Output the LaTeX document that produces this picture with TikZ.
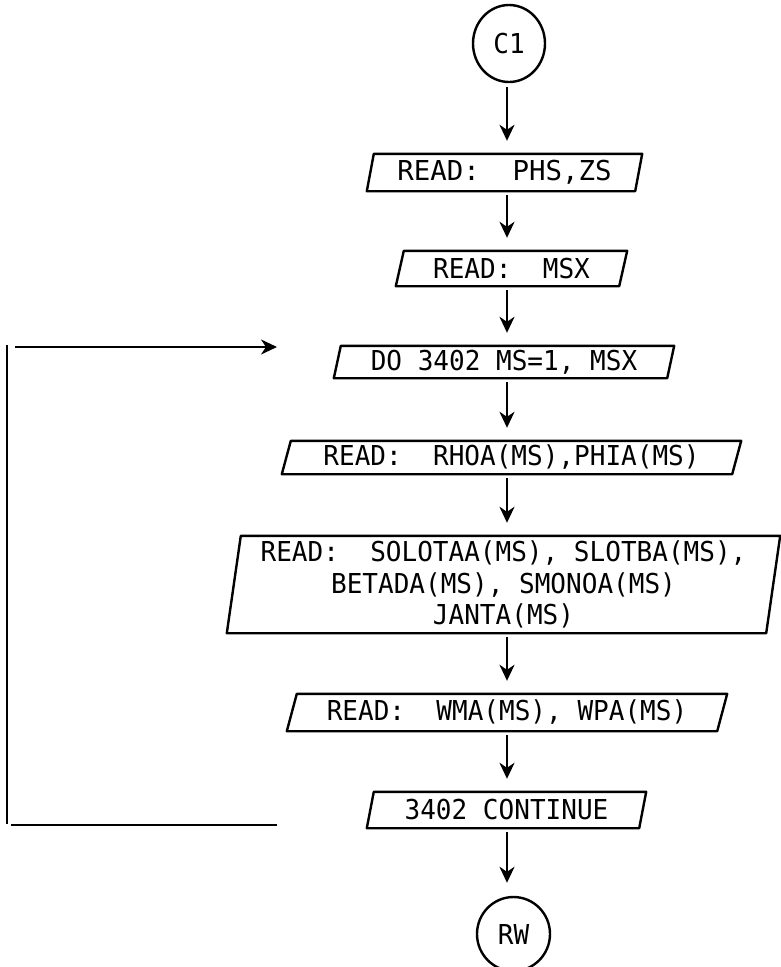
\documentclass[tikz,border=0pt]{standalone}
\usepackage{fontspec}
\usetikzlibrary{arrows.meta,shapes.geometric}
\newfontfamily\ttA[FakeStretch=0.95]{DejaVu Sans Mono}
\newfontfamily\ttB{DejaVu Sans Mono}
\newcommand\drawpara[2]{\draw[box] ([xshift=-#2]#1.south west) -- ([xshift=#2]#1.north west) -- ([xshift=#2]#1.north east) -- ([xshift=-#2]#1.south east) -- cycle;}
\begin{document}
\begin{tikzpicture}[x=1pt,y=-1pt,line width=2.4pt,
  txt/.style={inner sep=0pt,font=\ttA\fontsize{27.4}{31.5}\selectfont},
  box/.style={draw,line join=round},
  term/.style={ellipse,draw,inner sep=0pt,font=\ttA\fontsize{27.4}{30}\selectfont},
  tip/.style={-{Stealth[length=16pt,width=15pt,inset=5pt]}},
  arr/.style={tip,shorten <=4pt,shorten >=13pt}]
\useasboundingbox (0,0) rectangle (781,967);
\coordinate (axis) at (507,0);
% terminals
\node[term,minimum width=72pt,minimum height=77pt] (c1) at (509,43.5) {C1};
\node[term,minimum width=73pt,minimum height=74pt] (rw) at (513.5,934) {RW};
% boxes
\node[txt,font=\ttB\fontsize{27.4}{31.5}\selectfont,minimum width=266pt,minimum height=35pt] (b1) at (504.5,172.5) {READ:~~PHS,ZS};
\drawpara{b1}{3.5pt}
\node[txt,minimum width=221pt,minimum height=33pt] (b2) at (511.5,268.5) {READ:~~MSX};
\drawpara{b2}{4pt}
\node[txt,minimum width=331pt,minimum height=30pt] (b3) at (504,362) {DO 3402 MS=1, MSX};
\drawpara{b3}{3.5pt}
\node[txt,minimum width=448pt,minimum height=31pt] (b4) at (511.5,457.5) {READ:~~RHOA(MS),PHIA(MS)};
\drawpara{b4}{4.5pt}
\node[txt,align=center,minimum width=537pt,minimum height=95pt] (b5) at (503.5,584.5) {READ:~~SOLOTAA(MS), SLOTBA(MS),\\BETADA(MS), SMONOA(MS)\\JANTA(MS)};
\drawpara{b5}{7pt}
\node[txt,minimum width=428pt,minimum height=35pt] (b6) at (507,712.5) {READ:~~WMA(MS), WPA(MS)};
\drawpara{b6}{5pt}
\node[txt,minimum width=270pt,minimum height=34pt] (b7) at (506.5,810) {3402 CONTINUE};
\drawpara{b7}{3.5pt}
% connectors
\draw[arr] (c1.south -| axis) -- (b1.north -| axis);
\draw[arr] (b1.south -| axis) -- (b2.north -| axis);
\draw[arr] (b2.south -| axis) -- (b3.north -| axis);
\draw[arr] (b3.south -| axis) -- (b4.north -| axis);
\draw[arr] (b4.south -| axis) -- (b5.north -| axis);
\draw[arr] (b5.south -| axis) -- (b6.north -| axis);
\draw[arr] (b6.south -| axis) -- (b7.north -| axis);
\draw[arr] (b7.south -| axis) -- (rw.north -| axis);
% loop
\coordinate (lvt) at (7,345);
\coordinate (lvb) at (7,824);
\coordinate (lbl) at (11,825);
\coordinate (lbr) at (277,825);
\coordinate (ltl) at (15,347);
\coordinate (ltr) at (277,347);
\draw (lvt) -- (lvb);
\draw (lbl) -- (lbr);
\draw[tip] (ltl) -- (ltr);
\end{tikzpicture}
\end{document}
